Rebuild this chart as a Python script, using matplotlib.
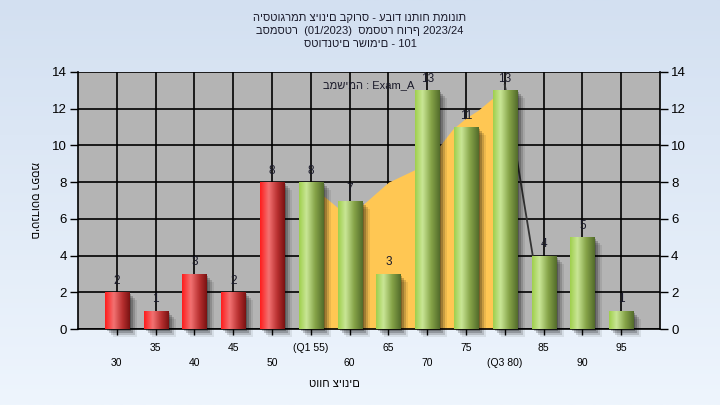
import numpy as np
import matplotlib
matplotlib.use("Agg")
import matplotlib.pyplot as plt
from matplotlib.patches import Rectangle
import matplotlib.transforms as mtransforms
from matplotlib.colors import LinearSegmentedColormap

plt.rcParams['font.family'] = ['Liberation Sans', 'DejaVu Sans']

# ---- data ----
categories = ["30", "35", "40", "45", "50", "(Q1 55)", "60", "65", "70", "75",
              "(Q3 80)", "85", "90", "95"]
counts = [2, 1, 3, 2, 8, 8, 7, 3, 13, 11, 13, 4, 5, 1]
below_q1 = [True, True, True, True, True, False, False, False, False, False,
            False, False, False, False]
# orange band between Q1 and Q3 (position in category units, value)
band_x = [5.0, 5.3, 5.7, 6.0, 6.3, 7.0, 7.7, 8.0, 8.33, 8.66, 9.0, 9.3, 9.7, 10.0]
band_y = [7.9, 7.3, 6.6, 6.6, 6.7, 8.0, 8.7, 9.2, 10.0, 10.9, 11.5, 11.9, 12.6, 12.9]
# connecting line from Q3 bar to next bar
link_x = [10.0, 10.72]
link_y = [13.3, 4.0]
yticks = [0, 2, 4, 6, 8, 10, 12, 14]

title_lines = ["היסטוגרמת ציונים בקורס - עבוד ונתוח תמונות",
               "בסמסטר  (01/2023)  סמסטר חורף 2023/24",
               "סטודנטים רשומים - 101"]
xlabel = "טווח ציונים"
ylabel = "מספר סטודנטים"
note = "במשימה : Exam_A"

fig = plt.figure(figsize=(7.2, 4.05), dpi=100)

# background gradient
bg = fig.add_axes([0, 0, 1, 1], zorder=-10)
grad = np.linspace(0, 1, 256).reshape(-1, 1)
bgcmap = LinearSegmentedColormap.from_list("bg", ["#d3e0f1", "#eef5fd"])
bg.imshow(grad, aspect='auto', cmap=bgcmap, extent=[0, 1, 0, 1], origin='upper')
bg.set_axis_off()

ax = fig.add_axes([78/720, 76/405, 582/720, 257/405])
ax.set_facecolor("#b4b4b4")

x = np.arange(len(categories))
w = 0.62

# grid
ax.set_axisbelow(True)
ax.grid(True, color="black", linewidth=1.2, zorder=0)

# band
ax.fill_between(band_x, band_y, 0, color="#ffc753", linewidth=0, zorder=1)
ax.plot(link_x, link_y, color="#333333", linewidth=1.3, zorder=1.5)

red_cmap = LinearSegmentedColormap.from_list(
    "r", [(0, "#ff1c1c"), (0.35, "#f27272"), (0.7, "#b83030"), (1, "#7a1212")])
green_cmap = LinearSegmentedColormap.from_list(
    "g", [(0, "#9fcf4c"), (0.3, "#c9e696"), (0.65, "#86a448"), (1, "#526b2b")])
hgrad = np.linspace(0, 1, 128).reshape(1, -1)

for xi, c, red in zip(x, counts, below_q1):
    # soft shadow layers
    for dx, a in [(2, 0.22), (4, 0.2), (6, 0.15), (8, 0.08)]:
        tr = mtransforms.offset_copy(ax.transData, fig=fig, x=dx, y=-dx, units='dots')
        sh = Rectangle((xi - w/2, 0), w, c, transform=tr, facecolor="black",
                       alpha=a, linewidth=0, zorder=2, clip_on=False)
        ax.add_patch(sh)
    rect = Rectangle((xi - w/2, 0), w, c, facecolor="none", linewidth=0, zorder=3)
    ax.add_patch(rect)
    im = ax.imshow(hgrad, cmap=red_cmap if red else green_cmap, aspect='auto',
                   extent=[xi - w/2, xi + w/2, 0, c], zorder=3, interpolation='bilinear')
    im.set_clip_path(rect)
    ax.text(xi, c + 0.3, str(c), ha='center', va='bottom', fontsize=8.5,
            color="#1a1a2a", zorder=5)

ax.set_xlim(-1, 14)
ax.set_ylim(0, 14)

# ticks
ax.set_xticks(x)
labels = [("\n" + s) if i % 2 == 0 else s for i, s in enumerate(categories)]
ax.set_xticklabels(labels, fontsize=7.5, linespacing=1.6)
ax.tick_params(axis='x', length=4, width=1, pad=6, colors="black")
ax.set_yticks(yticks)
ax.tick_params(axis='y', length=6, width=1, labelsize=9.5, left=True, right=True,
               labelleft=True, labelright=True, pad=2)
for sp in ax.spines.values():
    sp.set_color("black")
    sp.set_linewidth(1.2)
ax.spines['top'].set_visible(False)

ax.set_xlabel(xlabel, fontsize=8)
ax.xaxis.set_label_coords(0.44, -0.195)
ax.set_ylabel(ylabel, fontsize=8, rotation=270, va='center')
ax.yaxis.set_label_coords(-0.076, 0.5)

ax.text(0.5, 0.95, note, transform=ax.transAxes, ha='center', va='center',
        fontsize=8, color="#1a1a2a", zorder=6)

fig.text(0.5, 1 - 13/405, "\n".join(title_lines), ha='center', va='top',
         fontsize=8, linespacing=1.38, color="#1a1a2a")

fig.savefig("out.png", dpi=100)
